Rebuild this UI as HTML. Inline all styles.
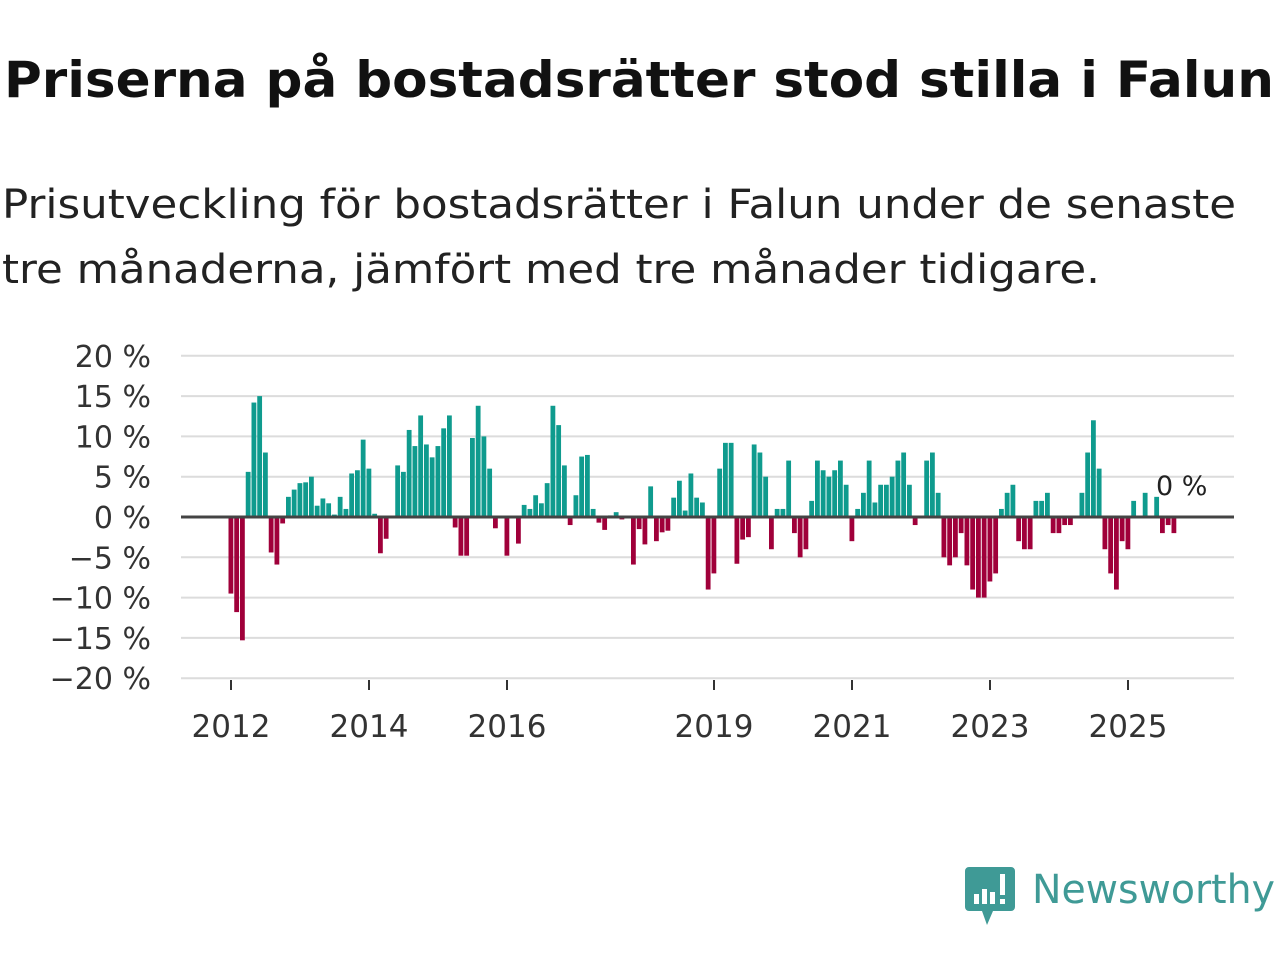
<!DOCTYPE html>
<html><head><meta charset="utf-8">
<style>
body{margin:0;width:1280px;height:960px;background:#fff;font-family:"DejaVu Sans","Liberation Sans",sans-serif;overflow:hidden;}
svg{position:absolute;left:0;top:0;}
</style></head>
<body>
<svg width="1280" height="960">
<text x="4" y="97" font-size="50" font-weight="bold" fill="#111" textLength="1270" lengthAdjust="spacingAndGlyphs">Priserna på bostadsrätter stod stilla i Falun</text>
<text x="2" y="218" font-size="40" fill="#222" textLength="1234" lengthAdjust="spacingAndGlyphs">Prisutveckling för bostadsrätter i Falun under de senaste</text>
<text x="2" y="283" font-size="40" fill="#222" textLength="1098" lengthAdjust="spacingAndGlyphs">tre månaderna, jämfört med tre månader tidigare.</text>
<g id="grid"></g>
<g id="bars"></g>
<g id="xaxis"></g>
<text x="1156" y="495" font-size="27" fill="#222">0 %</text>
<g>
<path d="M969 867 h42 a4 4 0 0 1 4 4 v36 a4 4 0 0 1 -4 4 h-18 l-6 14 l-5 -14 h-13 a4 4 0 0 1 -4 -4 v-36 a4 4 0 0 1 4 -4z" fill="#3f9a96"/>
<rect x="974" y="894" width="5" height="10" fill="#fff"/>
<rect x="982" y="889" width="5" height="15" fill="#fff"/>
<rect x="990" y="892" width="5" height="12" fill="#fff"/>
<rect x="1000" y="874" width="5" height="21" fill="#fff"/>
<rect x="1000" y="899" width="5" height="5" fill="#fff"/>
<text x="1032" y="903" font-size="40" fill="#3f9a96" textLength="243" lengthAdjust="spacingAndGlyphs">Newsworthy</text>
</g>
</svg>
<script>
const values=[-9.5,-11.8,-15.3,5.6,14.2,15,8,-4.4,-5.9,-0.8,2.5,3.4,4.2,4.3,5,1.4,2.3,1.7,0.3,2.5,1,5.4,5.8,9.6,6,0.4,-4.5,-2.7,0,6.4,5.6,10.8,8.8,12.6,9,7.4,8.8,11,12.6,-1.3,-4.8,-4.8,9.8,13.8,10,6,-1.4,0,-4.8,0,-3.3,1.5,1,2.7,1.7,4.2,13.8,11.4,6.4,-1,2.7,7.5,7.7,1,-0.7,-1.6,0.2,0.6,-0.3,0,-5.9,-1.5,-3.4,3.8,-3,-1.9,-1.7,2.4,4.5,0.8,5.4,2.4,1.8,-9,-7,6,9.2,9.2,-5.8,-2.8,-2.5,9,8,5,-4,1,1,7,-2,-5,-4,2,7,5.8,5,5.8,7,4,-3,1,3,7,1.8,4,4,5,7,8,4,-1,0,7,8,3,-5,-6,-5,-2,-6,-9,-10,-10,-8,-7,1,3,4,-3,-4,-4,2,2,3,-2,-2,-1,-1,0,3,8,12,6,-4,-7,-9,-3,-4,2,0,3,0,2.5,-2,-1,-2,0];
const startYear=2012;
const yTicks=[20,15,10,5,0,-5,-10,-15,-20];
const xTickYears=[2012,2014,2016,2019,2021,2023,2025];
const NS="http://www.w3.org/2000/svg";
const x0=231,pitch=5.75,y0=517,ppu=8.06;
const xs=i=>x0+i*pitch;
const ys=v=>y0-v*ppu;
function mk(t,a,p){const e=document.createElementNS(NS,t);for(const k in a)e.setAttribute(k,a[k]);p.appendChild(e);return e;}
const grid=document.getElementById('grid');
yTicks.forEach(v=>{
 const l=mk('line',{x1:181,x2:1234,y1:ys(v),y2:ys(v),stroke:'#dcdcdc','stroke-width':2},grid);
 
 
 const t=mk('text',{x:151,y:ys(v)+11,'font-size':30,fill:'#333','text-anchor':'end'},grid);
 t.textContent=(v<0?'\u2212'+(-v):v)+' %';
 
 
});
const bars=document.getElementById('bars');
values.forEach((v,i)=>{
 if(v===0)return;
 const r=mk('rect',{x:xs(i)-2.5,width:4.8,y:Math.min(ys(v),y0),height:Math.abs(ys(v)-y0),fill:v>0?'#0f9b8e':'#a0003a'},bars);
 
 
});
const xa=document.getElementById('xaxis');
const zl=mk('line',{x1:181,x2:1234,y1:y0,y2:y0,stroke:'#444','stroke-width':3},xa);


xTickYears.forEach(y=>{
 const x=xs((y-startYear)*12);
 const tk=mk('line',{x1:x,x2:x,y1:680,y2:690,stroke:'#333','stroke-width':2},xa);
 
 
 const t=mk('text',{x:x,y:737,'font-size':31,fill:'#333','text-anchor':'middle'},xa);
 t.textContent=y;
 
 
});
</script>
</body></html>
